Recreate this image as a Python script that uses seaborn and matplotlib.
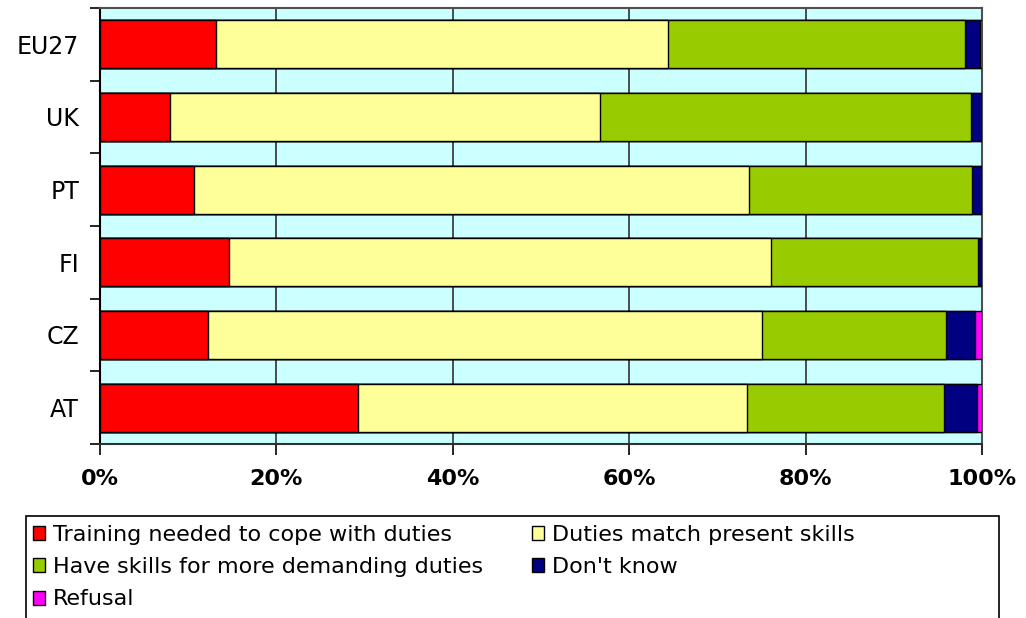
import matplotlib
matplotlib.use("Agg")
import matplotlib.pyplot as plt
from matplotlib.patches import Patch, Rectangle
from matplotlib.ticker import FixedLocator
import numpy as np
import seaborn as sns

# Survey answers by country (% of respondents)
countries = ["EU27", "UK", "PT", "FI", "CZ", "AT"]
training_needed = [13.1, 7.9, 10.7, 14.6, 12.2, 29.3]
duties_match = [51.3, 48.8, 62.9, 61.5, 62.9, 44.0]
more_demanding = [33.7, 42.0, 25.3, 23.5, 20.8, 22.4]
dont_know = [1.7, 1.3, 1.1, 0.4, 3.3, 3.7]
refusal = [0.2, 0.0, 0.0, 0.0, 0.8, 0.6]

series_labels = [
    "Training needed to cope with duties",
    "Duties match present skills",
    "Have skills for more demanding duties",
    "Don't know",
    "Refusal",
]
series_colors = ["#FF0000", "#FFFF99", "#99CC00", "#000080", "#FF00FF"]
x_ticks = [0, 20, 40, 60, 80, 100]
x_tick_labels = ["0%", "20%", "40%", "60%", "80%", "100%"]

series = [training_needed, duties_match, more_demanding, dont_know, refusal]
cumulative = np.cumsum(np.array(series), axis=0)

fig = plt.figure(figsize=(10.26, 6.18), dpi=100)
ax = fig.add_axes([100 / 1026, 1 - 444 / 618, 882 / 1026, 436 / 618])
ax.set_facecolor("#CCFFFF")

# Stacked bars: draw the running totals from the longest to the shortest
for i in range(len(series) - 1, -1, -1):
    sns.barplot(
        x=cumulative[i],
        y=countries,
        orient="h",
        color=series_colors[i],
        saturation=1,
        width=0.66,
        edgecolor="black",
        linewidth=1.0,
        ax=ax,
        zorder=3,
    )

ax.set_xlim(0, 100)
ax.set_ylim(len(countries) - 0.5, -0.5)
ax.set_xlabel("")
ax.set_ylabel("")

# Vertical gridlines behind the bars
ax.set_xticks(x_ticks)
ax.set_xticklabels(x_tick_labels, fontsize=16, fontweight="bold")
ax.xaxis.grid(True, color="#303030", linewidth=1.2, zorder=0)
ax.set_axisbelow(True)
ax.tick_params(axis="x", length=8, width=1.2, color="black", pad=10)

# Category labels centred, tick marks on the band boundaries
ax.tick_params(axis="y", which="major", length=0, pad=15, labelsize=17)
ax.yaxis.set_minor_locator(FixedLocator(np.arange(-0.5, len(countries) + 0.5, 1.0)))
ax.tick_params(axis="y", which="minor", length=7, width=1.2, color="black")

for side in ["top", "right"]:
    ax.spines[side].set_color("#505050")
    ax.spines[side].set_linewidth(1.5)
ax.spines["left"].set_color("black")
ax.spines["left"].set_linewidth(1.5)
ax.spines["bottom"].set_color("#303030")
ax.spines["bottom"].set_linewidth(1.5)

# Legend: filled rows left to right
handles = [Patch(facecolor=c, edgecolor="black", linewidth=1) for c in series_colors]
order = [0, 2, 4, 1, 3]
fig.legend(
    [handles[k] for k in order],
    [series_labels[k] for k in order],
    ncol=2,
    loc="upper left",
    bbox_to_anchor=(33 / 1026, 1 - 525 / 618),
    frameon=False,
    fontsize=16,
    handlelength=0.55,
    handleheight=0.6,
    handletextpad=0.35,
    columnspacing=2.2,
    labelspacing=0.55,
    borderpad=0.0,
    borderaxespad=0.0,
)
fig.add_artist(
    Rectangle(
        (26 / 1026, -0.02),
        (999 - 26) / 1026,
        (618 - 516) / 618 + 0.02,
        transform=fig.transFigure,
        fill=False,
        edgecolor="black",
        linewidth=1.2,
    )
)

fig.savefig("out.png", dpi=100)
